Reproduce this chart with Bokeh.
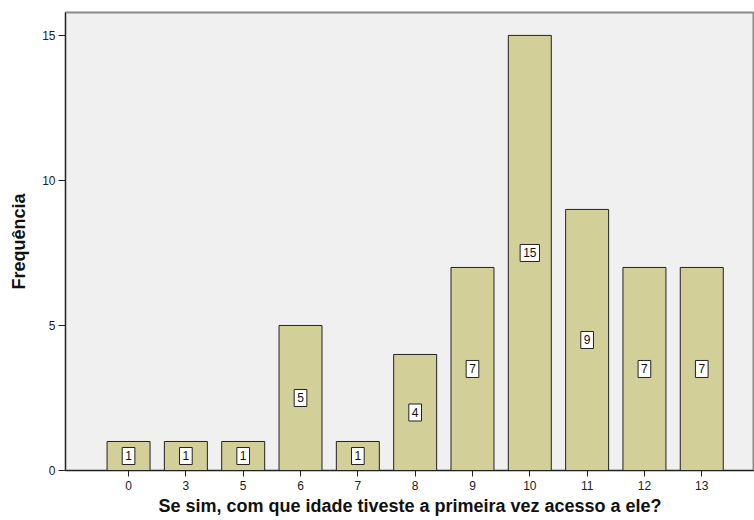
from bokeh.plotting import figure
from bokeh.models import ColumnDataSource, Range1d, FixedTicker
from bokeh.core.properties import value
from bokeh.embed import file_html
from bokeh.resources import INLINE

categories = ["0", "3", "5", "6", "7", "8", "9", "10", "11", "12", "13"]
counts = [1, 1, 1, 5, 1, 4, 7, 15, 9, 7, 7]
y_ticks = [0, 5, 10, 15]

idx = list(range(len(categories)))
src = ColumnDataSource(dict(
    x=idx,
    top=counts,
    mid=[c / 2 for c in counts],
    lab=[str(c) for c in counts],
))

p = figure(width=754, height=520, output_backend="svg", toolbar_location=None,
           x_range=Range1d(-1.1, 10.92), y_range=Range1d(0, 15.79),
           min_border_left=65, min_border_right=0, min_border_top=12, min_border_bottom=50)

p.background_fill_color = "#F0F0F0"
p.border_fill_color = "white"
p.outline_line_color = "#8A8A8A"
p.outline_line_width = 2
p.grid.visible = False

p.vbar(x="x", top="top", bottom=0, width=0.75, source=src,
       fill_color="#D3CF98", line_color="#222222", line_width=1)

p.text(x="x", y="mid", text="lab", source=src,
       text_align="center", text_baseline="middle",
       text_font=value("Liberation Sans"), text_font_size="12px", text_color="#111111",
       background_fill_color="white", border_line_color="#222222", border_line_width=1,
       padding=(3, 4))

p.xaxis.ticker = FixedTicker(ticks=idx)
p.xaxis.major_label_overrides = {i: c for i, c in zip(idx, categories)}
p.xaxis.minor_tick_line_color = None
p.xaxis.major_tick_out = 6
p.xaxis.major_tick_in = 0
p.xaxis.major_tick_line_color = "#222222"
p.xaxis.axis_line_color = "#222222"
p.xaxis.major_label_standoff = 4
p.xaxis.major_label_text_font = "Liberation Sans"
p.xaxis.major_label_text_font_size = "12px"
p.xaxis.major_label_text_color = "#222222"
p.xaxis.axis_label = "Se sim, com que idade tiveste a primeira vez acesso a ele?"
p.xaxis.axis_label_text_font = "Liberation Sans"
p.xaxis.axis_label_text_font_style = "bold"
p.xaxis.axis_label_text_font_size = "18px"
p.xaxis.axis_label_text_color = "#111111"
p.xaxis.axis_label_standoff = 3

p.yaxis.ticker = FixedTicker(ticks=y_ticks)
p.yaxis.minor_tick_line_color = None
p.yaxis.major_tick_out = 7
p.yaxis.major_tick_in = 0
p.yaxis.major_tick_line_color = "#222222"
p.yaxis.axis_line_color = "#222222"
p.yaxis.major_label_standoff = 3
p.yaxis.major_label_text_font = "Liberation Sans"
p.yaxis.major_label_text_font_size = "12px"
p.yaxis.major_label_text_color = "#222222"
p.yaxis.axis_label = "Frequência"
p.yaxis.axis_label_text_font = "Liberation Sans"
p.yaxis.axis_label_text_font_style = "bold"
p.yaxis.axis_label_text_font_size = "18px"
p.yaxis.axis_label_text_color = "#111111"
p.yaxis.axis_label_standoff = 10

open("out.html", "w").write(file_html(p, INLINE))
